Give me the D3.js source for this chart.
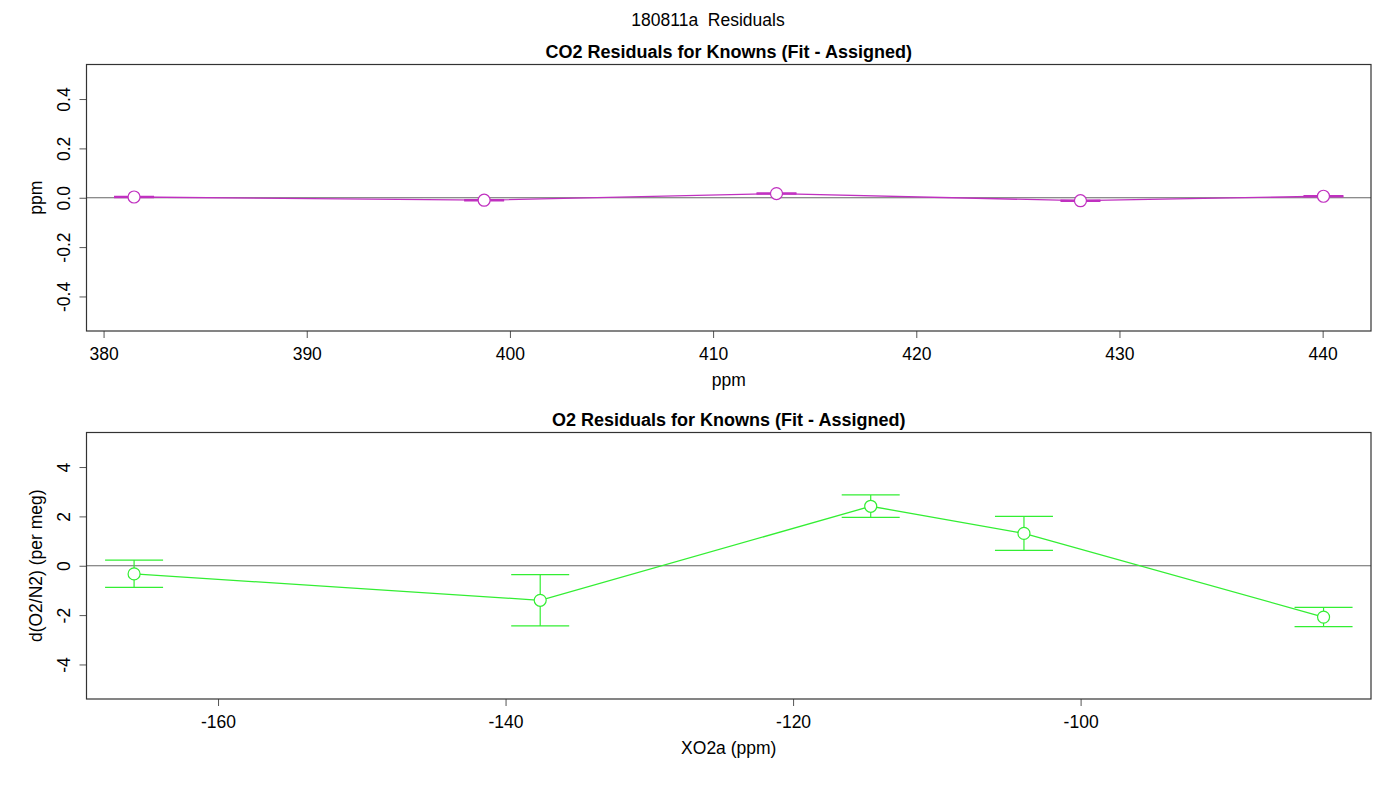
<!DOCTYPE html>
<html>
<head>
<meta charset="utf-8">
<script src="https://cdn.jsdelivr.net/npm/d3@7"></script>
<style>
  body { margin: 0; background: #fff; }
  text { font-family: "Liberation Sans", Arial, sans-serif; fill: #000; }
</style>
</head>
<body>
<div id="chart-area"></div>
<script>
// CO2 knowns: assigned value vs residual (fit - assigned)
var co2Assigned = [381.50, 398.73, 413.12, 428.08, 440.04];
var co2Resid    = [0.003, -0.010, 0.017, -0.012, 0.006];
var co2Upper    = [0.005, -0.008, 0.019, -0.010, 0.008];
var co2Lower    = [0.001, -0.012, 0.015, -0.014, 0.004];
var co2XTicks   = [380, 390, 400, 410, 420, 430, 440];
var co2YTicks   = [-0.4, -0.2, 0.0, 0.2, 0.4];

// O2 knowns
var o2Assigned = [-165.84, -137.59, -114.60, -103.94, -83.10];
var o2Resid    = [-0.33, -1.40, 2.41, 1.31, -2.08];
var o2Upper    = [0.23, -0.36, 2.87, 2.00, -1.69];
var o2Lower    = [-0.88, -2.44, 1.96, 0.62, -2.47];
var o2XTicks   = [-160, -140, -120, -100];
var o2YTicks   = [-4, -2, 0, 2, 4];

var W = 1400, H = 800;

var svg = d3.select("#chart-area").append("svg")
    .attr("width", W)
    .attr("height", H);

// overall title
svg.append("text")
    .attr("x", 708).attr("y", 26)
    .attr("text-anchor", "middle")
    .style("font-size", "17.5px")
    .style("white-space", "pre")
    .text("180811a  Residuals");

var panels = [
    {
        title: "CO2 Residuals for Knowns (Fit - Assigned)",
        xlab: "ppm", ylab: "ppm",
        x: co2Assigned, y: co2Resid, hi: co2Upper, lo: co2Lower,
        xTicks: co2XTicks, yTicks: co2YTicks,
        xDomain: [379.16, 442.38], yDomain: [-0.54, 0.54],
        fmtY: function (d) { return d.toFixed(1); },
        top: 64.5, bottom: 331, color: "#c030c0", capW: 20, capWidth: 1.6
    },
    {
        title: "O2 Residuals for Knowns (Fit - Assigned)",
        xlab: "XO2a (ppm)", ylab: "d(O2/N2) (per meg)",
        x: o2Assigned, y: o2Resid, hi: o2Upper, lo: o2Lower,
        xTicks: o2XTicks, yTicks: o2YTicks,
        xDomain: [-169.15, -79.8], yDomain: [-5.4, 5.4],
        fmtY: function (d) { return String(d); },
        top: 432.5, bottom: 699, color: "#33ee33", capW: 29, capWidth: 1.2
    }
];

var left = 86.5, right = 1371;

panels.forEach(function (p) {
    var x = d3.scaleLinear().domain(p.xDomain).range([left, right]);
    var y = d3.scaleLinear().domain(p.yDomain).range([p.bottom, p.top]);
    var g = svg.append("g");

    // panel title
    g.append("text")
        .attr("x", (left + right) / 2).attr("y", p.top - 7)
        .attr("text-anchor", "middle")
        .style("font-size", "18px")
        .style("font-weight", "bold")
        .text(p.title);

    // zero line
    g.append("line")
        .attr("x1", left).attr("x2", right)
        .attr("y1", y(0)).attr("y2", y(0))
        .attr("stroke", "#666").attr("stroke-width", 1.2);

    // axes
    var xAxis = d3.axisBottom(x).tickValues(p.xTicks).tickSize(7).tickPadding(5)
        .tickFormat(function (d) { return String(d); });
    var yAxis = d3.axisLeft(y).tickValues(p.yTicks).tickSize(7).tickPadding(5)
        .tickFormat(p.fmtY);

    var xg = g.append("g")
        .attr("transform", "translate(0," + p.bottom + ")")
        .call(xAxis);
    var yg = g.append("g")
        .attr("transform", "translate(" + left + ",0)")
        .call(yAxis);

    [xg, yg].forEach(function (a) {
        a.select(".domain").remove();
        a.selectAll(".tick line").attr("stroke", "#555");
        a.selectAll(".tick text")
            .style("font-size", "17.5px")
            .style("font-family", "'Liberation Sans', Arial, sans-serif")
            .attr("fill", "#000");
    });
    xg.selectAll(".tick text").attr("dy", "0.95em");

    // rotated y tick labels (R style)
    yg.selectAll(".tick text")
        .attr("x", null).attr("dy", null)
        .attr("text-anchor", "middle")
        .attr("transform", "translate(-17,0) rotate(-90)");

    // axis labels
    g.append("text")
        .attr("x", (left + right) / 2).attr("y", p.bottom + 55)
        .attr("text-anchor", "middle")
        .style("font-size", "17.5px")
        .text(p.xlab);
    g.append("text")
        .attr("transform", "translate(42," + (p.top + p.bottom) / 2 + ") rotate(-90)")
        .attr("text-anchor", "middle")
        .style("font-size", "17.5px")
        .text(p.ylab);

    var pts = p.x.map(function (d, i) {
        return { x: d, y: p.y[i], hi: p.hi[i], lo: p.lo[i] };
    });

    // connecting line
    var line = d3.line()
        .x(function (d) { return x(d.x); })
        .y(function (d) { return y(d.y); });
    g.append("path")
        .attr("d", line(pts))
        .attr("fill", "none")
        .attr("stroke", p.color)
        .attr("stroke-width", 1.3);

    // error bars
    var eb = g.selectAll(".eb").data(pts).enter().append("g").attr("class", "eb");
    eb.append("line")
        .attr("x1", function (d) { return x(d.x); })
        .attr("x2", function (d) { return x(d.x); })
        .attr("y1", function (d) { return y(d.hi); })
        .attr("y2", function (d) { return y(d.lo); })
        .attr("stroke", p.color).attr("stroke-width", 1.2);
    ["hi", "lo"].forEach(function (k) {
        eb.append("line")
            .attr("x1", function (d) { return x(d.x) - p.capW; })
            .attr("x2", function (d) { return x(d.x) + p.capW; })
            .attr("y1", function (d) { return y(d[k]); })
            .attr("y2", function (d) { return y(d[k]); })
            .attr("stroke", p.color).attr("stroke-width", p.capWidth);
    });

    // points
    g.selectAll(".pt").data(pts).enter().append("circle")
        .attr("class", "pt")
        .attr("cx", function (d) { return x(d.x); })
        .attr("cy", function (d) { return y(d.y); })
        .attr("r", 6)
        .attr("fill", "#fff")
        .attr("stroke", p.color)
        .attr("stroke-width", 1.2);

    // plot box
    g.append("rect")
        .attr("x", left).attr("y", p.top)
        .attr("width", right - left).attr("height", p.bottom - p.top)
        .attr("fill", "none")
        .attr("stroke", "#333")
        .attr("stroke-width", 1.2);
});
</script>
</body>
</html>
